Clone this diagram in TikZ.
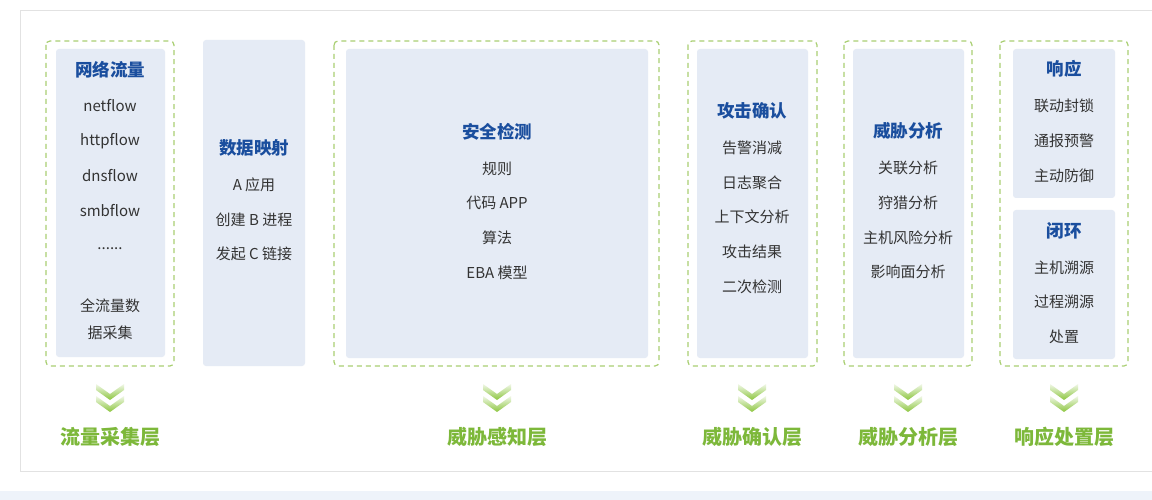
\documentclass[tikz,border=0pt]{standalone}
\usepackage{fontspec}
\setmainfont{Noto Sans CJK SC}
\definecolor{titleblue}{HTML}{1A4E9E}
\definecolor{bodytext}{HTML}{333333}
\definecolor{boxfill}{HTML}{E5EBF5}
\definecolor{dashgreen}{HTML}{A9CF72}
\definecolor{framegray}{HTML}{E2E2E2}
\definecolor{bandblue}{HTML}{EEF3FA}
\definecolor{labelgreen}{HTML}{7DB83A}
\definecolor{chevlight}{HTML}{F0F7E6}
\definecolor{chevdark}{HTML}{8CC63F}
\begin{document}
\begin{tikzpicture}[x=1pt,y=-1pt,
 frame/.style={draw=framegray,line width=1pt,fill=white},
 dashbox/.style={draw=dashgreen,line width=1.2pt,dash pattern=on 5pt off 4pt,rounded corners=4pt},
 fillbox/.style={fill=boxfill,rounded corners=3pt},
 ttl/.style={font=\fontsize{17.5}{20}\selectfont\bfseries,text=titleblue,inner sep=0pt},
 itm/.style={font=\fontsize{15}{18}\selectfont,text=bodytext,inner sep=0pt},
 lbl/.style={font=\fontsize{20}{24}\selectfont\bfseries,text=labelgreen,inner sep=0pt},
 chevs/.pic={
   \shade[top color=chevlight,bottom color=chevdark] (-14,0)--(0,10)--(14,0)--(14,6)--(0,16)--(-14,6)--cycle;
   \shade[top color=chevlight,bottom color=chevdark] (-14,12)--(0,22)--(14,12)--(14,18)--(0,28)--(-14,18)--cycle;
 }]
\useasboundingbox (0,0) rectangle (1152,500);
\fill[white] (0,0) rectangle (1152,500);
% frame and band
\draw[frame] (20,11) rectangle (1170,471);
\fill[bandblue] (0,491) rectangle (1152,500);

% column 1
\draw[dashbox] (46,41) rectangle (174,366);
\fill[fillbox] (56,49) rectangle (165,357);
\node[ttl] (t1) at (110,70) {网络流量};
\node[itm] (a1) at (110,106) {netflow};
\node[itm] (a2) at (110,141) {httpflow};
\node[itm] (a3) at (110,176) {dnsflow};
\node[itm] (a4) at (110,211) {smbflow};
\node[itm] (a5) at (110,249) {......};
\node[itm] (a6) at (110,306) {全流量数};
\node[itm] (a7) at (110,333) {据采集};

% column 2
\fill[fillbox] (203,40) rectangle (305,366);
\node[ttl] (t2) at (254,148) {数据映射};
\node[itm] (b1) at (254,185) {A 应用};
\node[itm] (b2) at (254,220) {创建 B 进程};
\node[itm] (b3) at (254,254) {发起 C 链接};

% column 3
\draw[dashbox] (334,41) rectangle (659,366);
\fill[fillbox] (346,49) rectangle (648,358);
\node[ttl] (t3) at (497,132) {安全检测};
\node[itm] (c1) at (497,169) {规则};
\node[itm] (c2) at (497,203) {代码 APP};
\node[itm] (c3) at (497,238) {算法};
\node[itm] (c4) at (497,273) {EBA 模型};

% column 4
\draw[dashbox] (688,41) rectangle (817,366);
\fill[fillbox] (697,49) rectangle (808,358);
\node[ttl] (t4) at (752,111) {攻击确认};
\node[itm] (d1) at (752,148) {告警消减};
\node[itm] (d2) at (752,183) {日志聚合};
\node[itm] (d3) at (752,217) {上下文分析};
\node[itm] (d4) at (752,252) {攻击结果};
\node[itm] (d5) at (752,287) {二次检测};

% column 5
\draw[dashbox] (844,41) rectangle (972,366);
\fill[fillbox] (853,49) rectangle (964,358);
\node[ttl] (t5) at (908,131) {威胁分析};
\node[itm] (e1) at (908,168) {关联分析};
\node[itm] (e2) at (908,203) {狩猎分析};
\node[itm] (e3) at (908,238) {主机风险分析};
\node[itm] (e4) at (908,272) {影响面分析};

% column 6
\draw[dashbox] (1000,41) rectangle (1128,366);
\fill[fillbox] (1013,49) rectangle (1115,198);
\fill[fillbox] (1013,210) rectangle (1115,359);
\node[ttl] (t6) at (1064,69) {响应};
\node[itm] (f1) at (1064,106) {联动封锁};
\node[itm] (f2) at (1064,141) {通报预警};
\node[itm] (f3) at (1064,176) {主动防御};
\node[ttl] (t7) at (1064,231) {闭环};
\node[itm] (g1) at (1064,268) {主机溯源};
\node[itm] (g2) at (1064,302) {过程溯源};
\node[itm] (g3) at (1064,337) {处置};

% chevrons
\pic (ch1) at (110,384) {chevs};
\pic (ch2) at (497,384) {chevs};
\pic (ch3) at (752,384) {chevs};
\pic (ch4) at (908,384) {chevs};
\pic (ch5) at (1064,384) {chevs};

% layer labels
\node[lbl] (l1) at (110,437) {流量采集层};
\node[lbl] (l2) at (497,437) {威胁感知层};
\node[lbl] (l3) at (752,437) {威胁确认层};
\node[lbl] (l4) at (908,437) {威胁分析层};
\node[lbl] (l5) at (1064,437) {响应处置层};
\end{tikzpicture}
\end{document}
